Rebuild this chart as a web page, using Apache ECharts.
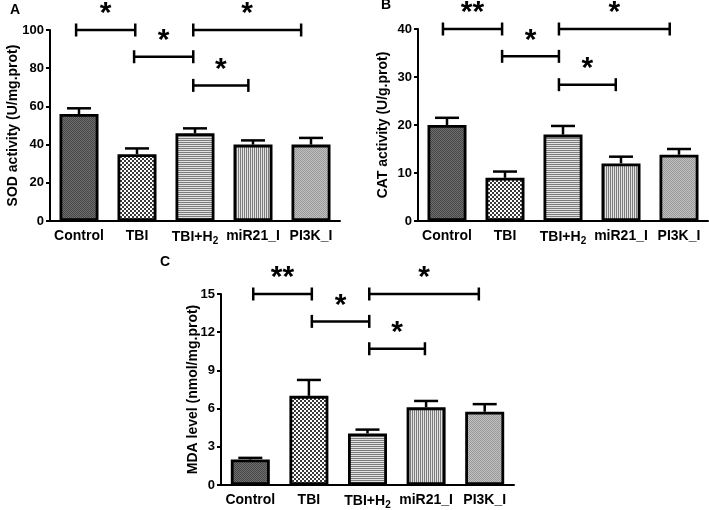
<!DOCTYPE html>
<html><head><meta charset="utf-8">
<script src="https://cdn.jsdelivr.net/npm/echarts@6/dist/echarts.min.js"></script>
<style>html,body{margin:0;padding:0;background:#fff}#c{width:709px;height:510px}</style>
</head><body><div id="c"></div>
<script>
// ---- data ----
const categories = ['Control', 'TBI', 'TBI+H2', 'miR21_I', 'PI3K_I'];
const sodMean = [56, 35, 46, 40, 40];
const sodErr = [3, 3, 2.5, 2.2, 3.5];
const catMean = [20, 9, 18, 12, 13.8];
const catErr = [1.5, 1.3, 1.8, 1.4, 1.2];
const mdaMean = [2.0, 7.0, 4.05, 6.1, 5.75];
const mdaErr = [0.13, 1.25, 0.3, 0.5, 0.6];
const sodTicks = [0, 20, 40, 60, 80, 100];
const catTicks = [0, 10, 20, 30, 40];
const mdaTicks = [0, 3, 6, 9, 12, 15];
// significance brackets: [from (category position), to, level, mark]
const sodBrackets = [[-0.05, 0.97, 100, '*'], [0.95, 1.97, 86, '*'], [1.97, 3.83, 100, '*'], [1.97, 2.92, 71, '*']];
const catBrackets = [[-0.07, 0.95, 40, '**'], [0.95, 1.93, 34.3, '*'], [1.93, 3.84, 40, '*'], [1.93, 2.91, 28.4, '*']];
const mdaBrackets = [[0.05, 1.05, 15, '**'], [1.05, 2.03, 12.85, '*'], [2.03, 3.9, 15, '*'], [2.03, 2.98, 10.7, '*']];
const yTitles = ['SOD activity (U/mg.prot)', 'CAT activity (U/g.prot)', 'MDA level (nmol/mg.prot)'];
const panelLabels = ['A', 'B', 'C'];

// ---- patterns ----
function pat(w, h, cells) {
  const c = document.createElement('canvas'); c.width = w; c.height = h;
  const x = c.getContext('2d');
  cells.forEach(([px, py, pw, ph, col]) => { x.fillStyle = col; x.fillRect(px, py, pw, ph); });
  return { image: c, repeat: 'repeat' };
}
const patterns = [
  pat(2, 2, [[0,0,2,2,'#707070'],[0,0,1,1,'#454545'],[1,1,1,1,'#454545']]),
  pat(4, 4, [[0,0,4,4,'#ffffff'],[0,0,2,2,'#3a3a3a'],[2,2,2,2,'#3a3a3a']]),
  pat(1, 2, [[0,0,1,1,'#7c7c7c'],[0,1,1,1,'#e2e2e2']]),
  pat(2, 1, [[0,0,1,1,'#7c7c7c'],[1,0,1,1,'#e2e2e2']]),
  pat(2, 2, [[0,0,2,2,'#c2c2c2'],[0,0,1,1,'#989898'],[1,1,1,1,'#989898']])
];

const FONT = 'Arial, "Liberation Sans", sans-serif';
const grids = [
  { left: 50, top: 30, width: 290, height: 191 },
  { left: 418, top: 29, width: 290, height: 192 },
  { left: 221, top: 294, width: 293, height: 193 }
];
const means = [sodMean, catMean, mdaMean];
const errs = [sodErr, catErr, mdaErr];
const ticks = [sodTicks, catTicks, mdaTicks];
const brackets = [sodBrackets, catBrackets, mdaBrackets];
const labelPos = [{ left: 10, top: 3 }, { left: 381, top: -2 }, { left: 160, top: 255 }];
const nameGaps = [30, 28, 21];

const option = {
  animation: false,
  backgroundColor: '#fff',
  textStyle: { fontFamily: FONT },
  title: panelLabels.map((t, i) => ({ text: t, left: labelPos[i].left, top: labelPos[i].top, padding: 0,
    textStyle: { fontSize: 14, fontWeight: 'bold', color: '#000', fontFamily: FONT } })),
  grid: grids.map(g => Object.assign({ containLabel: false }, g)),
  xAxis: grids.map((g, i) => ({
    type: 'category', gridIndex: i, data: categories,
    axisLine: { lineStyle: { color: '#000', width: 2 } },
    axisTick: { alignWithLabel: true, length: 4, lineStyle: { color: '#000', width: 2 } },
    axisLabel: { interval: 0, color: '#000', fontWeight: 'bold', fontSize: 14, margin: 8, fontFamily: FONT,
      formatter: v => v === 'TBI+H2' ? 'TBI+H{s|2}' : v,
      rich: { s: { fontSize: 10, fontWeight: 'bold', color: '#000', padding: [7, 0, 0, 0], fontFamily: FONT } } }
  })),
  yAxis: grids.map((g, i) => ({
    type: 'value', gridIndex: i,
    min: ticks[i][0], max: ticks[i][ticks[i].length - 1], interval: ticks[i][1] - ticks[i][0],
    axisLine: { show: true, lineStyle: { color: '#000', width: 2 } },
    axisTick: { show: true, length: 4, lineStyle: { color: '#000', width: 2 } },
    splitLine: { show: false },
    axisLabel: { color: '#000', fontWeight: 'bold', fontSize: 13, margin: 6, fontFamily: FONT },
    name: yTitles[i], nameLocation: 'middle', nameGap: nameGaps[i], nameMoveOverlap: false,
    nameTextStyle: { color: '#000', fontWeight: 'bold', fontSize: 14, fontFamily: FONT }
  })),
  series: []
};

grids.forEach((g, i) => {
  option.series.push({
    type: 'bar', xAxisIndex: i, yAxisIndex: i, barWidth: 39,
    data: means[i].map((v, k) => ({ value: v, itemStyle: { color: patterns[k] } })),
    itemStyle: { borderColor: '#000', borderWidth: 2.8 }
  });
  option.series.push({
    type: 'custom', xAxisIndex: i, yAxisIndex: i, z: 3,
    data: means[i].map((v, k) => [k, v, errs[i][k]]),
    renderItem: (params, api) => {
      const k = api.value(0), v = api.value(1), e = api.value(2);
      const base = api.coord([k, v]);
      const top = api.coord([k, v + e]);
      const st = { stroke: '#000', lineWidth: 2.5 };
      return { type: 'group', children: [
        { type: 'line', shape: { x1: base[0], y1: base[1], x2: top[0], y2: top[1] }, style: st },
        { type: 'line', shape: { x1: top[0] - 12, y1: top[1], x2: top[0] + 12, y2: top[1] }, style: st }
      ] };
    }
  });
  option.series.push({
    type: 'custom', xAxisIndex: i, yAxisIndex: i, z: 4, clip: false,
    data: brackets[i].map(b => [b[0], b[2]]),
    renderItem: (params, api) => {
      const b = brackets[i][params.dataIndex];
      const origin = api.coord([0, b[2]]);
      const band = api.size([1, 0])[0];
      const x1 = origin[0] + b[0] * band, x2 = origin[0] + b[1] * band, y = origin[1];
      const st = { stroke: '#000', lineWidth: 2.5 };
      return { type: 'group', children: [
        { type: 'line', shape: { x1: x1, y1: y, x2: x2, y2: y }, style: st },
        { type: 'line', shape: { x1: x1, y1: y - 6.5, x2: x1, y2: y + 6.5 }, style: st },
        { type: 'line', shape: { x1: x2, y1: y - 6.5, x2: x2, y2: y + 6.5 }, style: st },
        { type: 'text', x: (x1 + x2) / 2, y: y - 1, style: { text: b[3], fill: '#000', font: 'bold 30px ' + FONT,
          textAlign: 'center', textVerticalAlign: 'bottom' } }
      ] };
    }
  });
});

const chart = echarts.init(document.getElementById('c'), null, { renderer: 'canvas' });
chart.setOption(option);
</script></body></html>
